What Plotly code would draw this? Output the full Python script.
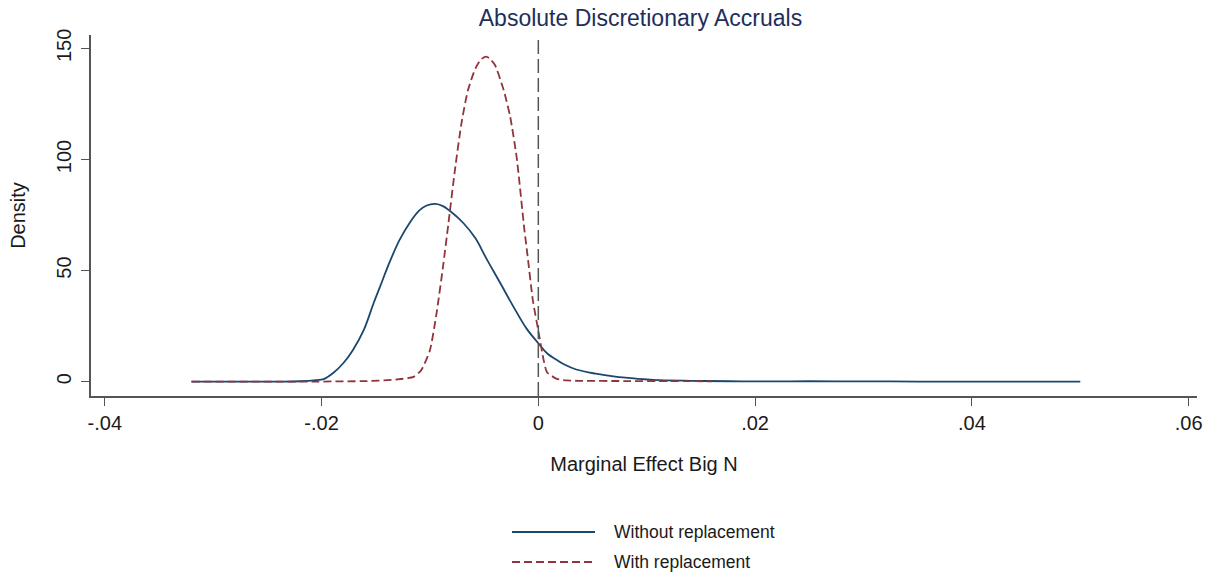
import plotly.graph_objects as go

# Data
x_without = [-0.032, -0.028, -0.024, -0.022, -0.0205, -0.0198, -0.0189, -0.0180, -0.0171, -0.0161,
             -0.0152, -0.0146, -0.0137, -0.0128, -0.0118, -0.0110, -0.0103, -0.0095, -0.0088, -0.0082,
             -0.0069, -0.0058, -0.0048, -0.0035, -0.0023, -0.0011, 0.0, 0.0008, 0.0018, 0.0025,
             0.0035, 0.0053, 0.0071, 0.0090, 0.0106, 0.0141, 0.0177, 0.020, 0.025, 0.030,
             0.035, 0.040, 0.045, 0.050]
y_without = [0.0, 0.0, 0.05, 0.2, 0.7, 1.2, 4.0, 8.3, 14.3, 23.3,
             35.3, 42.8, 54.0, 63.8, 72.0, 77.0, 79.3, 80.0, 79.0, 77.0,
             71.3, 64.5, 55.5, 44.3, 33.8, 24.0, 17.3, 12.8, 9.5, 7.5,
             5.5, 3.6, 2.3, 1.4, 0.8, 0.4, 0.2, 0.15, 0.2, 0.15,
             0.08, 0.05, 0.03, 0.02]

x_with = [-0.032, -0.024, -0.0208, -0.0158, -0.0131, -0.0115, -0.0108, -0.0100, -0.0094, -0.0088,
          -0.0083, -0.0077, -0.0071, -0.0065, -0.0058, -0.0053, -0.0048, -0.0044, -0.0040, -0.0032,
          -0.0026, -0.0020, -0.0013, -0.0010, -0.0005, 0.0, 0.0005, 0.0008, 0.0017, 0.0026,
          0.0038, 0.008, 0.012, 0.016]
y_with = [0.0, 0.0, 0.05, 0.3, 1.0, 2.2, 5.2, 14.2, 30.5, 51.5,
          71.0, 95.0, 116.0, 131.0, 141.0, 145.0, 146.3, 145.0, 142.5, 131.3,
          119.3, 101.0, 69.0, 57.0, 36.5, 23.0, 9.5, 4.3, 1.3, 0.6,
          0.4, 0.3, 0.25, 0.2]

x_ticks = [-0.04, -0.02, 0.0, 0.02, 0.04, 0.06]
x_tick_labels = ["-.04", "-.02", "0", ".02", ".04", ".06"]
y_ticks = [0, 50, 100, 150]
y_tick_labels = ["0", "50", "100", "150"]
ref_x = 0.0

series_names = ["Without replacement", "With replacement"]
title_text = "Absolute Discretionary Accruals"
x_title = "Marginal Effect Big N"
y_title = "Density"

BLUE = "#1a476f"
RED = "#90353b"
FONT = "Liberation Sans, Arial, sans-serif"
TXT = "#1a1a1a"

fig = go.Figure()
fig.add_trace(go.Scatter(x=x_without, y=y_without, mode="lines", name=series_names[0],
                         line=dict(color=BLUE, width=1.8, shape="spline", smoothing=1.0),
                         showlegend=False))
fig.add_trace(go.Scatter(x=x_with, y=y_with, mode="lines", name=series_names[1],
                         line=dict(color=RED, width=1.8, dash="8px,4px", shape="spline", smoothing=0.6),
                         showlegend=False))

# vertical reference line at 0
fig.add_shape(type="line", xref="x", yref="paper", x0=ref_x, x1=ref_x, y0=0, y1=1,
              line=dict(color="#555555", width=1.5, dash="14px,5px"))

# manual legend (Stata style, centered below)
L, R, T, B = 91, 20, 35, 180
W, H = 1217, 576
pw, ph = W - L - R, H - T - B

def px_to_paper_x(px):
    return (px - L) / pw

def px_to_paper_y(py):
    return (H - B - py) / ph

legend_rows = [(532, BLUE, "solid"), (562, RED, "8px,4px")]
for (py, col, dash), name in zip(legend_rows, series_names):
    fig.add_shape(type="line", xref="paper", yref="paper",
                  x0=px_to_paper_x(512), x1=px_to_paper_x(595),
                  y0=px_to_paper_y(py), y1=px_to_paper_y(py),
                  line=dict(color=col, width=1.8, dash=dash))
    fig.add_annotation(xref="paper", yref="paper", x=px_to_paper_x(612), y=px_to_paper_y(py),
                       text=name, showarrow=False, xanchor="left", yanchor="middle",
                       font=dict(family=FONT, size=17.5, color=TXT))

fig.update_layout(
    width=W, height=H,
    margin=dict(l=L, r=R, t=T, b=B),
    paper_bgcolor="white", plot_bgcolor="white",
    showlegend=False,
    font=dict(family=FONT, color=TXT),
    title=dict(text=title_text, x=640.5 / W, xanchor="center", y=1 - 18 / H, yanchor="middle",
               font=dict(family=FONT, size=23, color="#1e2f5a")),
)
fig.update_xaxes(range=[-0.04127, 0.06077], tickvals=x_ticks, ticktext=x_tick_labels,
                 showgrid=False, zeroline=False, showline=True, linecolor="#555555", linewidth=1.5,
                 ticks="outside", ticklen=8, tickcolor="#555555", tickwidth=1,
                 tickfont=dict(family=FONT, size=20, color=TXT),
                 title=dict(text=x_title, font=dict(family=FONT, size=20, color=TXT), standoff=24))
fig.update_yaxes(range=[-6.43, 156.0], tickvals=y_ticks, ticktext=y_tick_labels,
                 showgrid=False, zeroline=False, showline=True, linecolor="#555555", linewidth=1.5,
                 ticks="outside", ticklen=8, tickcolor="#555555", tickwidth=1, tickangle=-90,
                 ticklabelstandoff=2,
                 tickfont=dict(family=FONT, size=20, color=TXT),
                 title=dict(text=y_title, font=dict(family=FONT, size=20, color=TXT), standoff=22))

fig.write_html("out.html")
